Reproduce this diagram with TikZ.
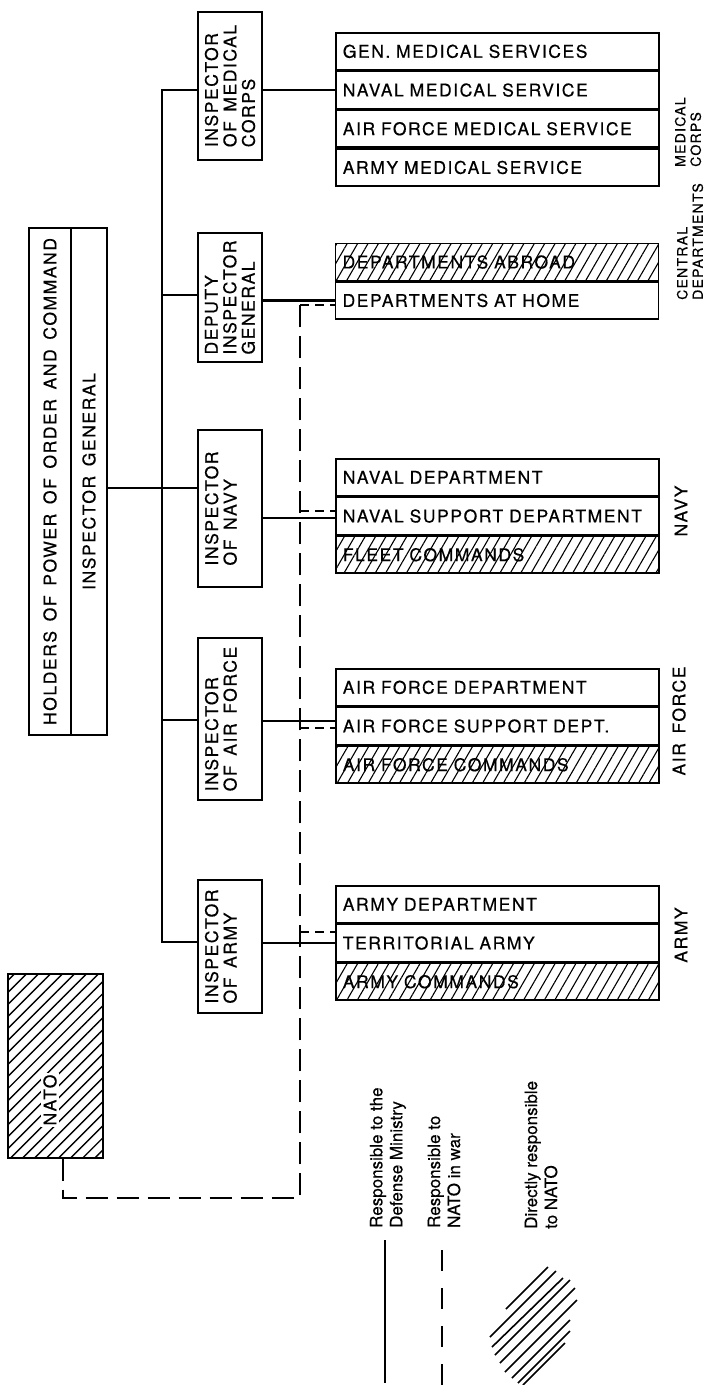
\documentclass[tikz,border=0pt]{standalone}
\usepackage{fontspec}
\setmainfont{TeX Gyre Heros}
\newfontfamily\chartfont{TeX Gyre Heros}[LetterSpace=9,WordSpace=1.5,FakeBold=0.5]
\newfontfamily\keyfont{TeX Gyre Heros}[FakeBold=0.3]
\usetikzlibrary{positioning,patterns.meta}

\begin{document}
\begin{tikzpicture}[
    x=1pt, y=-1pt,
    every node/.style={font=\chartfont\fontsize{17.5}{18.5}\selectfont},
    box/.style={draw, line width=1.7pt, inner sep=3pt},
    vbox/.style={box, rotate=90, align=left},
    row/.style={box, minimum height=37pt, text width=309pt, inner xsep=7pt, align=left},
    hatched/.style={pattern={Lines[angle=60,distance=9pt,line width=1.1pt]}},
    natohatch/.style={pattern={Lines[angle=45,distance=8.5pt,line width=1.4pt]}},
    minline/.style={line width=2.8pt},
    natoline/.style={line width=2pt, dash pattern=on 22pt off 9pt},
    natostub/.style={line width=2pt, dash pattern=on 9pt off 6pt},
    keydash/.style={line width=2pt, dash pattern=on 21pt off 17pt},
    side/.style={rotate=90, align=left, inner sep=1pt},
    small/.style={font=\chartfont\fontsize{14}{15.5}\selectfont},
    key/.style={rotate=90, anchor=west, align=left, inner sep=0pt, font=\keyfont\fontsize{17}{20}\selectfont}
]
\useasboundingbox (0,0) rectangle (708,1385);

% top level
\node[vbox, minimum width=507pt, minimum height=42pt] (holders) at (50,481.5) {HOLDERS OF POWER OF ORDER AND COMMAND};
\node[vbox, minimum width=507pt, minimum height=36pt] (ig) at (89,481.5) {INSPECTOR GENERAL};

% inspectors
\node[vbox, minimum width=148pt, minimum height=64pt] (medinsp) at (230,86) {INSPECTOR\\OF MEDICAL\\CORPS};
\node[vbox, minimum width=129pt, minimum height=64pt] (depinsp) at (230,297.5) {DEPUTY\\INSPECTOR\\GENERAL};
\node[vbox, minimum width=157pt, minimum height=64pt] (navinsp) at (230,508.5) {INSPECTOR\\OF NAVY\\\mbox{}};
\node[vbox, minimum width=162pt, minimum height=64pt] (airinsp) at (230,719) {INSPECTOR\\OF AIR FORCE\\\mbox{}};
\node[vbox, minimum width=133pt, minimum height=64pt] (arminsp) at (230,946.5) {INSPECTOR\\OF ARMY\\\mbox{}};

% medical corps
\node[row, anchor=north west] (gen) at (335,32) {GEN. MEDICAL SERVICES};
\node[row, below=0pt of gen] (navmed) {NAVAL MEDICAL SERVICE};
\node[row, below=0pt of navmed] (afmed) {AIR FORCE MEDICAL SERVICE};
\node[row, below=0pt of afmed] (armmed) {ARMY MEDICAL SERVICE};

% central departments
\node[row, hatched, anchor=north west] (abroad) at (335,243) {DEPARTMENTS ABROAD};
\node[row, below=0pt of abroad] (home) {DEPARTMENTS AT HOME};

% navy
\node[row, anchor=north west] (navdep) at (335,458) {NAVAL DEPARTMENT};
\node[row, below=0pt of navdep] (navsup) {NAVAL SUPPORT DEPARTMENT};
\node[row, hatched, below=0pt of navsup] (fleet) {FLEET COMMANDS};

% air force
\node[row, anchor=north west] (afdep) at (335,668) {AIR FORCE DEPARTMENT};
\node[row, below=0pt of afdep] (afsup) {AIR FORCE SUPPORT DEPT.};
\node[row, hatched, below=0pt of afsup] (afcom) {AIR FORCE COMMANDS};

% army
\node[row, anchor=north west] (armdep) at (335,885) {ARMY DEPARTMENT};
\node[row, below=0pt of armdep] (terr) {TERRITORIAL ARMY};
\node[row, hatched, below=0pt of terr] (armcom) {ARMY COMMANDS};

% side labels
\node[side, small, anchor=west] (medlab) at (688,168) {MEDICAL\\CORPS};
\node[side, small, anchor=west] (cenlab) at (690,301) {CENTRAL\\DEPARTMENTS};
\node[side] (navlab) at (681,511) {NAVY};
\node[side] (airlab) at (679,721) {AIR FORCE};
\node[side] (armlab) at (681,935) {ARMY};

% nato
\node[box, natohatch, minimum width=95pt, minimum height=184pt] (nato) at (55.5,1066) {};
\node[rotate=90, fill=white, inner sep=2pt] (natolab) at (50,1100) {NATO};

% defense ministry lines
\coordinate (tmed) at (162,90);
\coordinate (tdep) at (162,295);
\coordinate (tnav) at (162,488);
\coordinate (tair) at (162,720);
\coordinate (tarm) at (162,942);
\coordinate (rnav) at (300,518);
\coordinate (rair) at (300,721);

\draw[minline] (medinsp.north |- tmed) -| (tarm) -- (arminsp.north |- tarm);
\draw[minline] (tdep) -- (depinsp.north |- tdep);
\draw[minline] (ig.south |- tnav) -- (navinsp.north |- tnav);
\draw[minline] (tair) -- (airinsp.north |- tair);

\draw[minline] (medinsp.south |- navmed.west) -- (navmed.west);
\draw[minline] (depinsp.south |- home.west) -- (home.west);
\draw[minline] (navinsp.south |- rnav) -- (navsup.west |- rnav);
\draw[minline] (airinsp.south |- rair) -- (afsup.west |- rair);
\draw[minline] (arminsp.south |- terr.west) -- (terr.west);

% nato in war
\coordinate (wtop) at (300,305);
\coordinate (wbot) at (300,1198);
\draw[natoline] ([xshift=7.5pt]nato.south) |- (wbot) -- (wtop);
\draw[natostub] (wtop) -- (home.west |- wtop);
\draw[natostub] (wtop |- 0,511) -- (navsup.west |- 0,511);
\draw[natostub] (wtop |- 0,728) -- (afsup.west |- 0,728);
\draw[natostub] (wtop |- 0,932) -- (terr.west |- 0,932);

% legend
\node[key] (keymin) at (388,1228) {Responsible to the\\Defense Ministry};
\node[key] (keywar) at (444,1228) {Responsible to\\NATO in war};
\node[key] (keyhat) at (541,1229) {Directly responsible\\to NATO};
\draw[minline] (385,1240) -- (385,1383);
\draw[keydash] (442,1250) -- (442,1385);
\foreach \ax/\ay/\bx/\by in {506/1309/548/1267, 490/1337/556/1271, 492/1347/563/1278,
    495/1355/570/1280, 500/1363/575/1288, 505/1372/577/1300, 512/1378/570/1320,
    518/1383/570/1331, 523/1385/565/1343}
  \draw[line width=1.6pt] (\ax,\ay) -- (\bx,\by);
\end{tikzpicture}
\end{document}
